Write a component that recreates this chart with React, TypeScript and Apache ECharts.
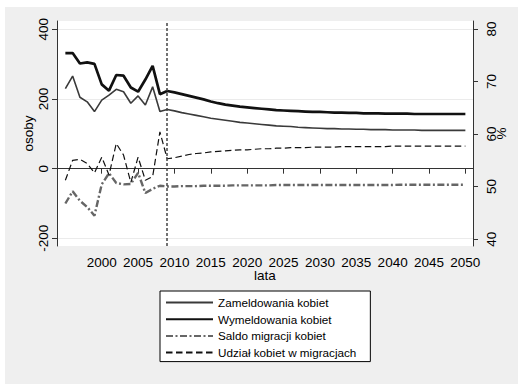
import React, { useEffect, useRef } from "react";
import * as echarts from "echarts";

const years: number[] = [];
for (let y = 1995; y <= 2050; y++) years.push(y);

const zameldowania = [
  230, 266, 205, 192, 164, 197, 211, 228, 221, 188, 209, 183, 235, 164, 170,
  166, 161, 157, 153, 149, 145, 142, 139, 136, 133, 131, 129, 127, 125, 123,
  122, 121, 119, 118, 117, 116, 115, 115, 114, 114, 113, 113, 112, 112, 112,
  111, 111, 111, 111, 110, 110, 110, 110, 110, 110, 110,
];

const wymeldowania = [
  332, 332, 302, 305, 301, 242, 224, 269, 267, 233, 221, 256, 295, 214, 223,
  219, 214, 209, 204, 199, 193, 188, 184, 181, 178, 176, 174, 172, 170, 168,
  167, 166, 165, 164, 163, 163, 162, 161, 161, 160, 160, 159, 159, 159, 158,
  158, 158, 158, 157, 157, 157, 157, 157, 157, 157, 157,
];

const saldo = [
  -100, -65, -92, -110, -135, -45, -13, -41, -45, -44, -12, -70, -58, -49, -51,
  -51, -50, -50, -50, -49, -49, -49, -49, -48, -48, -48, -48, -48, -48, -47,
  -47, -47, -47, -47, -47, -47, -47, -47, -47, -47, -47, -47, -47, -47, -47,
  -47, -46, -46, -46, -46, -46, -46, -46, -46, -46, -46,
];

const udzial = [
  51.2, 55.0, 55.2, 54.4, 52.6, 55.6, 52.2, 58.2, 56.0, 50.8, 55.6, 51.2, 51.9, 60.4, 55.3,
  55.5, 55.8, 56.1, 56.3, 56.4, 56.6, 56.7, 56.8, 56.9, 57.0, 57.0, 57.1, 57.2, 57.2, 57.3,
  57.3, 57.4, 57.4, 57.4, 57.5, 57.5, 57.5, 57.5, 57.6, 57.6, 57.6, 57.6, 57.6, 57.6, 57.6,
  57.7, 57.7, 57.7, 57.7, 57.7, 57.7, 57.7, 57.7, 57.7, 57.7, 57.7,
];

const seriesNames = [
  "Zameldowania kobiet",
  "Wymeldowania kobiet",
  "Saldo migracji kobiet",
  "Udział kobiet w migracjach",
];

const xTicks = [2000, 2005, 2010, 2015, 2020, 2025, 2030, 2035, 2040, 2045, 2050];
const yLeftTicks = [-200, 0, 200, 400];
const yRightTicks = [40, 50, 60, 70, 80];
const forecastStart = 2009;

const FONT = "'Liberation Sans', Arial, sans-serif";

const pairs = (vals: number[]) => years.map((y, i) => [y, vals[i]]);
const plain = (v: number) => String(v);

export default function App() {
  const ref = useRef<HTMLDivElement>(null);
  useEffect(() => {
    if (!ref.current) return;
    const chart = echarts.init(ref.current, null, { renderer: "svg" });
    const axisLineStyle = { color: "#333", width: 1 };
    chart.setOption({
      animation: false,
      textStyle: { fontFamily: FONT },
      grid: {
        left: 57,
        right: 45,
        top: 21,
        bottom: 138,
        show: true,
        backgroundColor: "#ffffff",
        borderWidth: 0,
        containLabel: false,
        outerBoundsMode: "none",
      },
      legend: {
        orient: "vertical",
        left: 160,
        top: 291,
        itemWidth: 47,
        itemHeight: 14,
        itemGap: 4.7,
        padding: [5.5, 14, 3, 5],
        backgroundColor: "#ffffff",
        borderColor: "#000",
        borderWidth: 1,
        borderRadius: 0,
        data: seriesNames,
        itemStyle: { opacity: 0 },
        textStyle: { fontSize: 11.7, color: "#000", fontFamily: FONT },
      },
      xAxis: {
        type: "value",
        min: 1993.85,
        max: 2051.05,
        name: "lata",
        nameLocation: "middle",
        nameGap: 22,
        nameMoveOverlap: false,
        nameTextStyle: { fontSize: 13.5, color: "#000", fontFamily: FONT },
        axisLine: { show: true, lineStyle: axisLineStyle },
        axisTick: { show: true, length: 5, customValues: xTicks, lineStyle: axisLineStyle },
        axisLabel: {
          customValues: xTicks,
          formatter: plain,
          fontSize: 13.5,
          color: "#000",
          margin: 9,
          fontFamily: FONT,
        },
        splitLine: { show: false },
      },
      yAxis: [
        {
          type: "value",
          position: "left",
          min: -222,
          max: 424,
          name: "osoby",
          nameLocation: "middle",
          nameGap: 22,
          nameRotate: 90,
          nameMoveOverlap: false,
          nameTextStyle: { fontSize: 13.5, color: "#000", fontFamily: FONT },
          axisLine: { show: true, lineStyle: axisLineStyle },
          axisTick: { show: true, length: 5, customValues: yLeftTicks, lineStyle: axisLineStyle },
          axisLabel: {
            customValues: yLeftTicks,
            formatter: plain,
            rotate: 90,
            fontSize: 13.5,
            color: "#000",
            margin: 7,
            fontFamily: FONT,
          },
          splitLine: { show: true, lineStyle: { color: "#ebebeb", width: 1 } },
        },
        {
          type: "value",
          position: "right",
          min: 38.7,
          max: 81.5,
          name: "%",
          nameLocation: "middle",
          nameGap: 21,
          nameRotate: 90,
          nameMoveOverlap: false,
          nameTextStyle: { fontSize: 13.5, color: "#000", fontFamily: FONT },
          axisLine: { show: true, lineStyle: axisLineStyle },
          axisTick: { show: true, length: 5, customValues: yRightTicks, lineStyle: axisLineStyle },
          axisLabel: {
            customValues: yRightTicks,
            formatter: plain,
            rotate: 90,
            fontSize: 13.5,
            color: "#000",
            margin: 11,
            fontFamily: FONT,
          },
          splitLine: { show: false },
        },
      ],
      series: [
        {
          name: seriesNames[0],
          type: "line",
          yAxisIndex: 0,
          data: pairs(zameldowania),
          symbol: "none",
          lineStyle: { color: "#3a3a3a", width: 1.6 },
          itemStyle: { color: "#3a3a3a" },
          z: 3,
          markLine: {
            silent: true,
            symbol: "none",
            label: { show: false },
            lineStyle: { type: [3, 2], color: "#444", width: 1.5 },
            data: [{ xAxis: forecastStart }],
          },
        },
        {
          name: seriesNames[1],
          type: "line",
          yAxisIndex: 0,
          data: pairs(wymeldowania),
          symbol: "none",
          lineStyle: { color: "#111", width: 2.7 },
          itemStyle: { color: "#111" },
          z: 4,
        },
        {
          name: seriesNames[2],
          type: "line",
          yAxisIndex: 0,
          data: pairs(saldo),
          symbol: "none",
          lineStyle: { color: "#666", width: 2.4, type: [7, 2.5, 2, 2.5] },
          itemStyle: { color: "#666" },
          z: 2,
        },
        {
          name: seriesNames[3],
          type: "line",
          yAxisIndex: 1,
          data: pairs(udzial),
          symbol: "none",
          lineStyle: { color: "#111", width: 1.2, type: [6.5, 3.5] },
          itemStyle: { color: "#111" },
          z: 3,
        },
      ],
    });
    return () => chart.dispose();
  }, []);

  return (
    <div style={{ position: "fixed", left: 0, top: 0, width: 518, height: 384, background: "#fff" }}>
      <div
        style={{
          position: "absolute",
          left: 5,
          top: 7,
          width: 513,
          height: 377,
          background: "#efefef",
        }}
      />
      <div ref={ref} style={{ position: "absolute", left: 0, top: 0, width: 518, height: 384 }} />
    </div>
  );
}
